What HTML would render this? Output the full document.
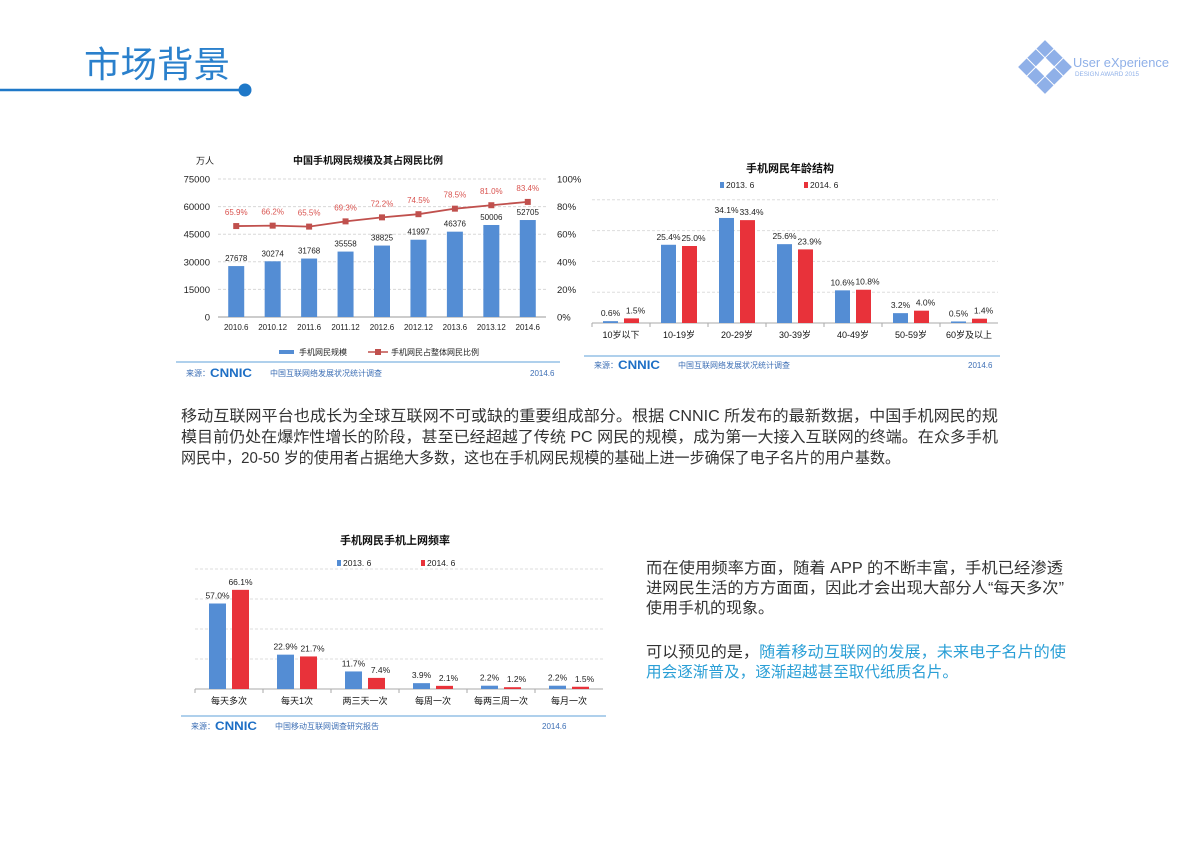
<!DOCTYPE html>
<html><head><meta charset="utf-8">
<style>
html,body{margin:0;padding:0;background:#fff;}
body{width:1191px;height:842px;position:relative;overflow:hidden;font-family:"Liberation Sans","Noto Sans CJK SC",sans-serif;}
svg text{font-family:"Liberation Sans","Noto Sans CJK SC",sans-serif;}
</style></head>
<body>
<svg id="page" width="1191" height="842" viewBox="0 0 1191 842" xmlns="http://www.w3.org/2000/svg">
  <g>
    <text x="84" y="77" font-size="36" fill="#2a80cc" textLength="146" lengthAdjust="spacingAndGlyphs">市场背景</text>
    <line x1="0" y1="90" x2="244" y2="90" stroke="#1f78c8" stroke-width="2.5"/>
    <circle cx="245" cy="90" r="6.5" fill="#1f78c8"/>
  </g>
  <g fill="#8fb0e8">
    <g transform="translate(1045,67) rotate(45)">
      <rect x="-19" y="-19" width="12" height="12"/><rect x="-6" y="-19" width="12" height="12"/><rect x="7" y="-19" width="12" height="12"/>
      <rect x="-19" y="-6" width="12" height="12"/><rect x="7" y="-6" width="12" height="12"/>
      <rect x="-19" y="7" width="12" height="12"/><rect x="-6" y="7" width="12" height="12"/><rect x="7" y="7" width="12" height="12"/>
    </g>
    <text x="1073" y="67" font-size="12.5" textLength="96" lengthAdjust="spacingAndGlyphs">User eXperience</text>
    <text x="1075" y="76" font-size="6" textLength="64" lengthAdjust="spacingAndGlyphs">DESIGN  AWARD  2015</text>
  </g>
  <g id="c1"></g>
  <g id="c2"></g>
  <g id="c3"></g>
  <g font-size="15.5" fill="#333">
    <text x="181" y="421" textLength="817" lengthAdjust="spacingAndGlyphs">移动互联网平台也成长为全球互联网不可或缺的重要组成部分。根据 CNNIC 所发布的最新数据，中国手机网民的规</text>
    <text x="181" y="442" textLength="817" lengthAdjust="spacingAndGlyphs">模目前仍处在爆炸性增长的阶段，甚至已经超越了传统 PC 网民的规模，成为第一大接入互联网的终端。在众多手机</text>
    <text x="181" y="463" textLength="719" lengthAdjust="spacingAndGlyphs">网民中，20-50 岁的使用者占据绝大多数，这也在手机网民规模的基础上进一步确保了电子名片的用户基数。</text>
  </g>
  <g font-size="15.5" fill="#333">
    <text x="646" y="573" textLength="417" lengthAdjust="spacingAndGlyphs">而在使用频率方面，随着 APP 的不断丰富，手机已经渗透</text>
    <text x="646" y="593" textLength="418" lengthAdjust="spacingAndGlyphs">进网民生活的方方面面，因此才会出现大部分人“每天多次”</text>
    <text x="646" y="613" textLength="128" lengthAdjust="spacingAndGlyphs">使用手机的现象。</text>
    <text x="646" y="657" textLength="420" lengthAdjust="spacingAndGlyphs">可以预见的是，<tspan fill="#2a9fd6">随着移动互联网的发展，未来电子名片的使</tspan></text>
    <text x="646" y="677" fill="#2a9fd6" textLength="312" lengthAdjust="spacingAndGlyphs">用会逐渐普及，逐渐超越甚至取代纸质名片。</text>
  </g>
</svg>
<script>
const NS="http://www.w3.org/2000/svg";
// chart 1 data
const c1Categories=["2010.6","2010.12","2011.6","2011.12","2012.6","2012.12","2013.6","2013.12","2014.6"];
const c1Users=[27678,30274,31768,35558,38825,41997,46376,50006,52705];
const c1Ratio=[65.9,66.2,65.5,69.3,72.2,74.5,78.5,81.0,83.4];
const c1LeftTicks=[0,15000,30000,45000,60000,75000];
const c1RightTicks=[0,20,40,60,80,100];
// chart 2 data
const c2Categories=["10岁以下","10-19岁","20-29岁","30-39岁","40-49岁","50-59岁","60岁及以上"];
const c2Y2013=[0.6,25.4,34.1,25.6,10.6,3.2,0.5];
const c2Y2014=[1.5,25.0,33.4,23.9,10.8,4.0,1.4];
// chart 3 data
const c3Categories=["每天多次","每天1次","两三天一次","每周一次","每两三周一次","每月一次"];
const c3Y2013=[57.0,22.9,11.7,3.9,2.2,2.2];
const c3Y2014=[66.1,21.7,7.4,2.1,1.2,1.5];

function el(p,tag,attrs,txt){const e=document.createElementNS(NS,tag);for(const k in attrs)e.setAttribute(k,attrs[k]);if(txt!==undefined)e.textContent=txt;p.appendChild(e);return e;}
function src(g,x1,x2,ry,ty,org,dateX){
  el(g,'line',{x1:x1,x2:x2,y1:ry,y2:ry,stroke:'#7fb3e0','stroke-width':1.2});
  el(g,'text',{x:x1+10,y:ty,'font-size':8,fill:'#3d6fb5'},'来源：');
  el(g,'text',{x:x1+34,y:ty+1,'font-size':12,'font-weight':'bold',fill:'#1e6fc5',textLength:42,lengthAdjust:'spacingAndGlyphs'},'CNNIC');
  el(g,'text',{x:x1+94,y:ty,'font-size':8,fill:'#3d6fb5'},org);
  el(g,'text',{x:dateX,y:ty,'font-size':8,fill:'#3d6fb5'},'2014.6');
}
// Chart 1
(function(){
  const g=document.getElementById('c1');
  const x0=218,x1=546,yb=317,yt=179;
  const step=(x1-x0)/c1Categories.length;
  const xc=i=>x0+step*(i+0.5);
  const yL=v=>yb-(v/75000)*(yb-yt);
  const yR=v=>yb-(v/100)*(yb-yt);
  el(g,'text',{x:368,y:164,'font-size':10,'font-weight':'bold','text-anchor':'middle',fill:'#111'},'中国手机网民规模及其占网民比例');
  el(g,'text',{x:196,y:164,'font-size':9,fill:'#222'},'万人');
  c1LeftTicks.forEach(t=>{
    const y=yL(t);
    if(t>0){const l=el(g,'line',{x1:x0,x2:x1,y1:y,y2:y,stroke:'#d8d8d8','stroke-dasharray':'3,2'});}
    const tx=el(g,'text',{x:210,y:y+3.5,'font-size':9.5,'text-anchor':'end',fill:'#222'},String(t));
    
  });
  c1RightTicks.forEach(t=>{
    const tx=el(g,'text',{x:557,y:yR(t)+3.5,'font-size':9.5,fill:'#222'},t+'%');
    
  });
  el(g,'line',{x1:x0,x2:x1,y1:yb,y2:yb,stroke:'#999'});
  c1Categories.forEach((c,i)=>{
    const r=el(g,'rect',{x:xc(i)-8,y:yL(c1Users[i]),width:16,height:yb-yL(c1Users[i]),fill:'#548dd4'});
    
    el(g,'text',{x:xc(i),y:yL(c1Users[i])-5,'font-size':8,'text-anchor':'middle',fill:'#222'},String(c1Users[i]));
    const t=el(g,'text',{x:xc(i),y:yb+13,'font-size':8,'text-anchor':'middle',fill:'#222'},c);
    
  });
  const pts=c1Ratio.map((v,i)=>xc(i)+','+yR(v)).join(' ');
  const pl=el(g,'polyline',{points:pts,fill:'none',stroke:'#c0504d','stroke-width':1.8});
  
  c1Ratio.forEach((v,i)=>{
    const m=el(g,'rect',{x:xc(i)-3,y:yR(v)-3,width:6,height:6,fill:'#c0504d'});
    
    el(g,'text',{x:xc(i),y:yR(v)-11,'font-size':8,'text-anchor':'middle',fill:'#d9534f'},v.toFixed(1)+'%');
  });
  const lg=el(g,'g',{});
  el(lg,'rect',{x:279,y:350,width:15,height:4,fill:'#548dd4'});
  el(lg,'text',{x:299,y:355,'font-size':8,fill:'#222'},'手机网民规模');
  el(lg,'line',{x1:368,x2:388,y1:352,y2:352,stroke:'#c0504d','stroke-width':1.5});
  el(lg,'rect',{x:375,y:349,width:6,height:6,fill:'#c0504d'});
  el(lg,'text',{x:391,y:355,'font-size':8,fill:'#222'},'手机网民占整体网民比例');
  src(g,176,560,362,376,'中国互联网络发展状况统计调查',530);
})();
// grouped bar chart
function grouped(id,o,cats,a,b){
  const g=document.getElementById(id);
  const step=(o.x1-o.x0)/cats.length;
  const xc=i=>o.x0+step*(i+0.5);
  const y=v=>o.yb-v*o.k;
  el(g,'text',{x:o.tx,y:o.ty,'font-size':11,'font-weight':'bold','text-anchor':'middle',fill:'#111'},o.title);
  const lg=el(g,'g',{});
  el(lg,'rect',{x:o.lx,y:o.ly-6,width:4,height:6,fill:'#548dd4'});
  el(lg,'text',{x:o.lx+6,y:o.ly,'font-size':8.5,fill:'#222'},'2013. 6');
  el(lg,'rect',{x:o.lx+84,y:o.ly-6,width:4,height:6,fill:'#e8323a'});
  el(lg,'text',{x:o.lx+90,y:o.ly,'font-size':8.5,fill:'#222'},'2014. 6');
  o.grid.forEach(v=>{const l=el(g,'line',{x1:o.x0,x2:o.x1,y1:y(v),y2:y(v),stroke:'#ddd','stroke-dasharray':'3,2'});});
  el(g,'line',{x1:o.x0,x2:o.x1,y1:o.yb,y2:o.yb,stroke:'#aaa'});
  cats.forEach((c,i)=>{
    el(g,'line',{x1:o.x0+step*i,x2:o.x0+step*i,y1:o.yb,y2:o.yb+4,stroke:'#aaa'});
    const ra=el(g,'rect',{x:xc(i)-o.bw-3,y:y(a[i]),width:o.bw,height:a[i]*o.k,fill:'#548dd4'});
    
    const rb=el(g,'rect',{x:xc(i)+3,y:y(b[i]),width:o.bw,height:b[i]*o.k,fill:'#e8323a'});
    
    el(g,'text',{x:xc(i)-o.bw/2-3,y:y(a[i])-5,'font-size':8.5,'text-anchor':'middle',fill:'#222'},a[i].toFixed(1)+'%');
    el(g,'text',{x:xc(i)+o.bw/2+3+(b[i]<a[i]+6&&b[i]>a[i]-6?4:0),y:y(b[i])-5,'font-size':8.5,'text-anchor':'middle',fill:'#222'},b[i].toFixed(1)+'%');
    const t=el(g,'text',{x:xc(i),y:o.yb+15,'font-size':9,'text-anchor':'middle',fill:'#111'},c);
    
  });
  src(g,o.sx0,o.sx1,o.ry,o.sty,o.org,o.dateX);
}
grouped('c2',{x0:592,x1:998,yb:323,k:3.08,grid:[10,20,30,40],bw:15,title:'手机网民年龄结构',tx:790,ty:172,lx:720,ly:188,sx0:584,sx1:1000,ry:356,sty:368,org:'中国互联网络发展状况统计调查',dateX:968},c2Categories,c2Y2013,c2Y2014);
grouped('c3',{x0:195,x1:603,yb:689,k:1.5,grid:[20,40,60,80],bw:17,title:'手机网民手机上网频率',tx:395,ty:544,lx:337,ly:566,sx0:181,sx1:606,ry:716,sty:729,org:'中国移动互联网调查研究报告',dateX:542},c3Categories,c3Y2013,c3Y2014);
</script>
</body></html>
